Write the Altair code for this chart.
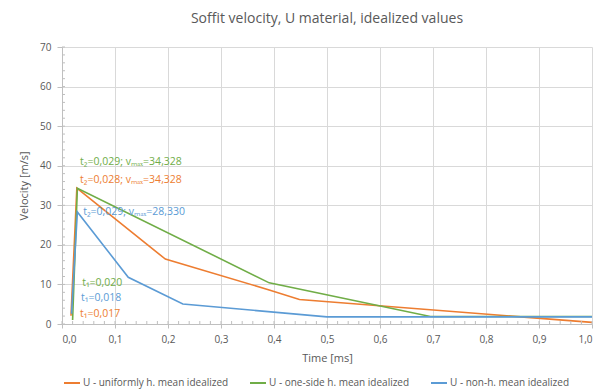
import altair as alt
import pandas as pd

series_names = ["U - uniformly h. mean idealized", "U - one-side h. mean idealized", "U - non-h. mean idealized"]
series_colors = ["#ED7D31", "#70AD47", "#5B9BD5"]

orange_t = [0.017, 0.028, 0.195, 0.391, 0.448, 1.0]
orange_v = [2.1, 34.328, 16.4, 8.6, 6.2, 0.4]
green_t = [0.020, 0.029, 0.391, 0.695, 1.0]
green_v = [1.0, 34.328, 10.4, 1.9, 1.9]
blue_t = [0.018, 0.029, 0.125, 0.228, 0.5, 1.0]
blue_v = [2.6, 28.33, 11.8, 5.05, 1.8, 1.8]

ann_text = ["t\u2082=0,029; v\u2098\u2090\u2093=34,328", "t\u2082=0,028; v\u2098\u2090\u2093=34,328",
            "t\u2082=0,029; v\u2098\u2090\u2093=28,330", "t\u2081=0,020", "t\u2081=0,018", "t\u2081=0,017"]
ann_t = [0.034, 0.034, 0.040, 0.038, 0.036, 0.034]
ann_v = [41.0, 36.4, 28.3, 10.3, 6.6, 2.6]
ann_series = [1, 0, 2, 1, 2, 0]

x_ticks = [round(0.1 * i, 1) for i in range(11)]
y_ticks = [10 * i for i in range(8)]
minor_x = [round(0.02 * i, 2) for i in range(51)]
minor_y = [2 * i for i in range(36)]

rows = []
for name, ts, vs in zip(series_names, [orange_t, green_t, blue_t], [orange_v, green_v, blue_v]):
    for i, (t, v) in enumerate(zip(ts, vs)):
        rows.append({"series": name, "t": t, "v": v, "i": i})
df = pd.DataFrame(rows)

ann_df = pd.DataFrame({"text": ann_text, "t": ann_t, "v": ann_v,
                       "color": [series_colors[s] for s in ann_series]})

W, H = 530, 277
xscale = alt.Scale(domain=[0, 1], nice=False, zero=False)
yscale = alt.Scale(domain=[0, 70], nice=False)
FONT = "Open Sans"
GREY = "#595959"

xaxis = alt.Axis(values=x_ticks,
                 labelExpr="replace(format(datum.value, '.1f'), '.', ',')",
                 grid=True, gridColor="#D9D9D9", domainColor="#BFBFBF",
                 tickColor="#BFBFBF", tickSize=4, labelColor=GREY, titleColor=GREY,
                 labelFontSize=10, titleFontSize=11, titleFontWeight="normal",
                 labelFont=FONT, titleFont=FONT, labelPadding=6, titlePadding=8,
                 labelOverlap=False)
yaxis = alt.Axis(values=y_ticks, grid=True, gridColor="#D9D9D9",
                 domainColor="#BFBFBF", tickColor="#BFBFBF", tickSize=5,
                 labelColor=GREY, titleColor=GREY, labelFontSize=10, titleFontSize=11,
                 titleFontWeight="normal", labelFont=FONT, titleFont=FONT,
                 labelPadding=6, titlePadding=10, labelOverlap=False)
XT = "Time [ms]"
YT = "Velocity [m/s]"

lines = alt.Chart(df).mark_line(strokeWidth=1.6).encode(
    x=alt.X("t:Q", scale=xscale, title=XT, axis=xaxis),
    y=alt.Y("v:Q", scale=yscale, title=YT, axis=yaxis),
    color=alt.Color("series:N", scale=alt.Scale(domain=series_names, range=series_colors),
                    legend=alt.Legend(orient="none", legendX=1, legendY=H + 50, direction="horizontal",
                                      title=None, symbolType="stroke", symbolSize=256,
                                      symbolStrokeWidth=2, labelFontSize=10, labelColor=GREY,
                                      labelFont=FONT, columnPadding=17, labelOffset=2)),
    order="i:Q",
)

minor_xt = alt.Chart(pd.DataFrame({"t": minor_x})).mark_rule(color="#BFBFBF").encode(
    x=alt.X("t:Q", scale=xscale, title=XT, axis=xaxis), y=alt.value(H - 3), y2=alt.value(H))
minor_yt = alt.Chart(pd.DataFrame({"v": minor_y})).mark_rule(color="#BFBFBF").encode(
    y=alt.Y("v:Q", scale=yscale, title=YT, axis=yaxis), x=alt.value(0), x2=alt.value(3))

ann = alt.Chart(ann_df).mark_text(align="left", baseline="middle", fontSize=10.5, font=FONT).encode(
    x=alt.X("t:Q", scale=xscale, title=XT, axis=xaxis),
    y=alt.Y("v:Q", scale=yscale, title=YT, axis=yaxis),
    text="text:N", color=alt.Color("color:N", scale=None))

chart = alt.layer(lines, minor_xt, minor_yt, ann).properties(
    width=W, height=H,
    title=alt.Title("Soffit velocity, U material, idealized values", fontSize=14, color=GREY,
                    font=FONT, fontWeight="normal", anchor="middle", offset=16),
    autosize=alt.AutoSizeParams(type="none"),
    padding={"left": 54, "top": 39, "right": 6, "bottom": 70},
).configure_view(stroke=None)

chart.save("out.html", embed_options={"renderer": "svg", "actions": False})
